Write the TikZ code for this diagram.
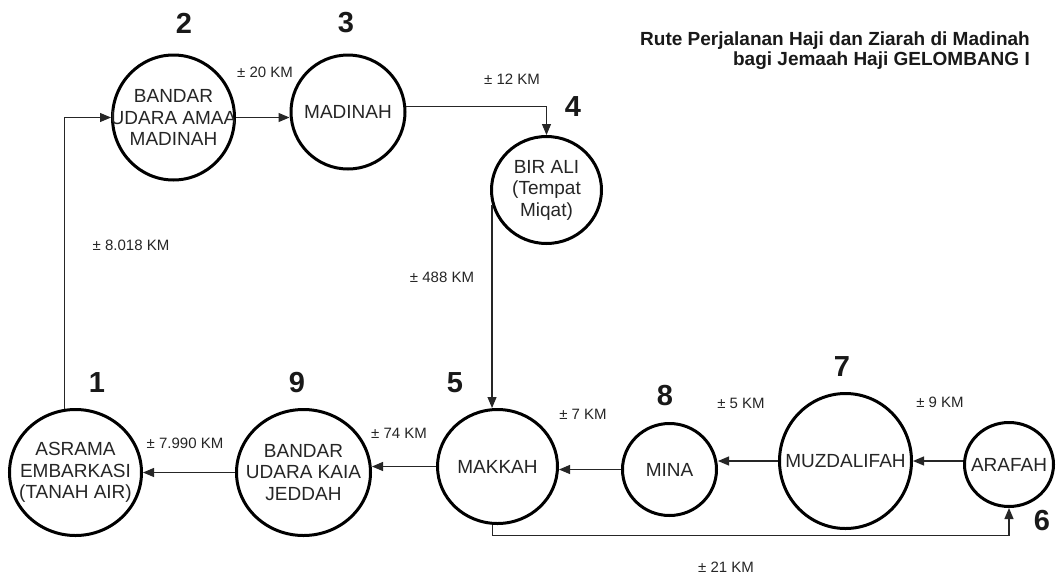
\documentclass[tikz,border=0pt]{standalone}
\usepackage{fontspec}
\setmainfont{Liberation Sans}
\usetikzlibrary{arrows.meta,shapes.geometric}
\begin{document}
\begin{tikzpicture}[x=1pt,y=-1pt,
  place/.style={draw=black, line width=3pt, ellipse, inner sep=0pt},
  conn/.style={draw=black!85, line width=1.1pt, -{Triangle[length=11pt,width=9pt]}},
  numlbl/.style={font=\fontsize{29}{29}\bfseries\selectfont, inner sep=0pt, text=black!90},
  dist/.style={font=\fontsize{15}{17}\selectfont, inner sep=0pt, text=black!85},
  ntext/.style={font=\fontsize{19}{21.5}\selectfont, align=center, text=black!85, inner sep=0pt},
  title/.style={font=\fontsize{19}{20}\bfseries\selectfont, inner sep=0pt, text=black!90}
]
\useasboundingbox (0,0) rectangle (1058,579);
\fill[white] (0,0) rectangle (1058,579);

% places
\node[place, minimum width=132pt, minimum height=126pt,
  label={[ntext]center:ASRAMA\\EMBARKASI\\(TANAH AIR)}] (n1) at (75.5,472.5) {};
\node[place, minimum width=122pt, minimum height=125pt,
  label={[ntext]center:BANDAR\\UDARA AMAA\\MADINAH}] (n2) at (173.5,117.5) {};
\node[place, minimum width=114pt, minimum height=114pt,
  label={[ntext]center:MADINAH}] (n3) at (348,112) {};
\node[place, minimum width=110pt, minimum height=107pt,
  label={[ntext]center:BIR ALI\\(Tempat\\Miqat)}] (n4) at (546.5,190) {};
\node[place, minimum width=120pt, minimum height=114pt,
  label={[ntext]center:MAKKAH}] (n5) at (497.5,466.5) {};
\node[place, minimum width=89pt, minimum height=84pt,
  label={[ntext]center:ARAFAH}] (n6) at (1009,464.5) {};
\node[place, minimum width=132pt, minimum height=135pt,
  label={[ntext]center:MUZDALIFAH}] (n7) at (845.5,461) {};
\node[place, minimum width=94pt, minimum height=92pt,
  label={[ntext]center:MINA}] (n8) at (669.5,469.5) {};
\node[place, minimum width=134pt, minimum height=126pt,
  label={[ntext]center:BANDAR\\UDARA KAIA\\JEDDAH}] (n9) at (303.5,472.5) {};

% step numbers
\node[numlbl] (k1) at (97,383) {1};
\node[numlbl] (k2) at (184,23) {2};
\node[numlbl] (k3) at (346,23) {3};
\node[numlbl] (k4) at (573,107) {4};
\node[numlbl] (k5) at (455,383) {5};
\node[numlbl] (k6) at (1042,521) {6};
\node[numlbl] (k7) at (842,367) {7};
\node[numlbl] (k8) at (665,396) {8};
\node[numlbl] (k9) at (297,383) {9};

% connectors
\draw[conn] (n1.100) |- (n2.west);
\draw[conn] (n2.east) -- (n2.east -| n3.west);
\draw[conn] (n3.5) -| (n4.north);
\draw[conn] (n4.195) -- (n4.195 |- n5.north);
\draw[conn] (n5.265) -- ++(0,11) -| (n6.south);
\draw[conn] (n7.east -| n6.west) -- (n7.east);
\draw[conn] (n7.west) -- (n7.west -| n8.east);
\draw[conn] (n8.west) -- (n8.west -| n5.east);
\draw[conn] (n5.west) -- (n5.west -| n9.east);
\draw[conn] (n9.west) -- (n9.west -| n1.east);

% distances
\node[dist] (d12) at (131,245) {± 8.018 KM};
\node[dist] (d23) at (265,72) {± 20 KM};
\node[dist] (d34) at (512,79) {± 12 KM};
\node[dist] (d45) at (442,277) {± 488 KM};
\node[dist] (d56) at (726,567) {± 21 KM};
\node[dist] (d67) at (940,402) {± 9 KM};
\node[dist] (d78) at (741,403) {± 5 KM};
\node[dist] (d85) at (583,414) {± 7 KM};
\node[dist] (d59) at (399,433) {± 74 KM};
\node[dist] (d91) at (185,443) {± 7.990 KM};

% title
\node[title, anchor=base east] (t1) at (1030,45) {Rute Perjalanan Haji dan Ziarah di Madinah};
\node[title, anchor=base east] (t2) at (1030,65) {bagi Jemaah Haji GELOMBANG I};
\end{tikzpicture}
\end{document}
